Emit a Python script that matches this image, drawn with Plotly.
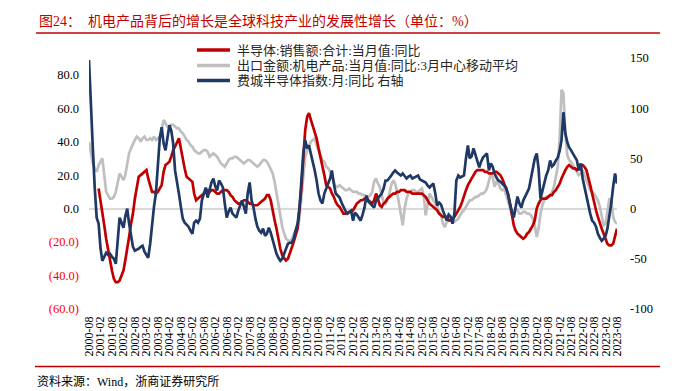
import plotly.graph_objects as go
import pandas as pd

# ---------------- data (monthly, 2000-08 .. 2023-08) ----------------
months = pd.date_range("2000-08-01", "2023-08-01", freq="MS")

# 半导体:销售额:合计:当月值:同比 (left axis, %)
semi_sales_yoy = (
    [None, None, None, None, None]                                   # 2000 Aug-Dec
    + [12, 5, -3, -10, -18, -25, -31, -37, -42, -44, -44, -43]       # 2001
    + [-40, -37, -31, -25, -17, -9, -3, 6, 14, 19, 20, 21]           # 2002
    + [22, 23, 18, 13, 10, 10, 9, 10, 12, 14, 22, 26]                # 2003
    + [27, 28, 31, 35, 37, 40, 42, 36, 29, 24, 19, 18]               # 2004
    + [17, 16, 9, 5, 6, 7, 8, 9, 10, 11, 10, 11]                     # 2005
    + [11, 10, 9, 9, 10, 11, 11, 11, 10, 8, 7, 5]                    # 2006
    + [4, 3, 3, 4, 5, 5, 4, 3, 3, 2, 2, 2]                           # 2007
    + [3, 4, 5, 6, 8, 8, 5, -2, -7, -12, -19, -24]                   # 2008
    + [-28, -30, -31, -30, -27, -23, -20, -16, -12, 0, 12, 30]       # 2009
    + [47, 55, 57, 53, 49, 46, 42, 36, 31, 25, 20, 14]               # 2010
    + [13, 12, 9, 7, 4, 2, 1, -1, -3, -3, -3, -2]                    # 2011
    + [-2, -1, 1, 3, 4, 5, 5, 6, 6, 5, 4, 3]                         # 2012
    + [5, 9, 6, 2, 1, 3, 4, 6, 7, 8, 9, 9]                           # 2013
    + [10, 10, 11, 11, 11, 10, 10, 10, 9, 9, 9, 9]                   # 2014
    + [9, 9, 8, 7, 5, 3, 2, 1, 0, -1, -3, -4]                        # 2015
    + [-5, -5, -5, -7, -7, -6, -5, -3, -1, 1, 4, 8]                  # 2016
    + [11, 14, 16, 18, 20, 22, 23, 23, 23, 23, 22, 22]               # 2017
    + [21, 21, 21, 22, 22, 21, 20, 18, 15, 12, 9, 3]                 # 2018
    + [-3, -10, -13, -15, -16, -17, -18, -17, -15, -14, -12, -10]    # 2019
    + [-7, 0, 3, 5, 6, 6, 6, 7, 8, 8, 10, 11]                        # 2020
    + [13, 15, 18, 21, 23, 25, 26, 25, 24, 24, 23, 24]               # 2021
    + [26, 26, 25, 23, 19, 14, 9, 3, -1, -5, -9, -12]                # 2022
    + [-15, -18, -21, -22, -22, -21, -17, -12]                       # 2023 Jan-Aug
)

# 出口金额:机电产品:当月值:同比:3月中心移动平均 (left axis, %)
export_mech_yoy_3mma = (
    [40, 34, 27, 24, 22]                                             # 2000 Aug-Dec
    + [26, 28, 30, 20, 10, 8, 6, 6, 7, 10, 15, 21]                   # 2001
    + [19, 17, 20, 26, 33, 36, 39, 41, 43, 42, 40, 42]               # 2002
    + [43, 41, 41, 42, 41, 43, 41, 42, 43, 47, 53, 51]               # 2003
    + [49, 49, 50, 50, 49, 48, 48, 46, 45, 43, 41, 40]               # 2004
    + [38, 37, 35, 34, 33, 33, 34, 35, 35, 34, 31, 32]               # 2005
    + [33, 32, 31, 29, 27, 26, 25, 27, 29, 30, 30, 31]               # 2006
    + [31, 30, 29, 28, 27, 28, 29, 29, 28, 27, 26, 25]               # 2007
    + [26, 28, 29, 29, 28, 26, 23, 21, 16, 9, 2, -6]                 # 2008
    + [-11, -15, -18, -19, -20, -18, -15, -13, -12, -6, 7, 20]       # 2009
    + [31, 35, 38, 40, 41, 42, 38, 35, 31, 29, 28, 25]               # 2010
    + [24, 22, 19, 16, 13, 13, 14, 13, 12, 11, 11, 12]               # 2011
    + [11, 10, 10, 10, 9, 9, 8, 8, 7, 7, 8, 10]                      # 2012
    + [16, 18, 15, 13, 8, 4, 3, 5, 9, 14, 17, 15]                    # 2013
    + [10, 3, -4, -10, 0, 6, 9, 10, 11, 11, 10, 10]                  # 2014
    + [11, 12, 8, -4, 2, 9, 7, 5, 3, 1, -2, -4]                      # 2015
    + [-9, -11, -8, -7, -7, -8, -8, -7, -6, -4, -2, -1]              # 2016
    + [1, 3, 5, 5, 6, 7, 7, 8, 9, 9, 10, 12]                         # 2017
    + [16, 21, 19, 13, 16, 15, 12, 11, 12, 8, 5, 1]                  # 2018
    + [-3, -1, 0, -1, -3, -3, -2, -2, -3, -3, -4, -6]                # 2019
    + [-10, -17, -12, -3, 2, 5, 7, 7, 8, 10, 13, 19]                 # 2020
    + [25, 43, 71, 69, 45, 32, 29, 28, 26, 24, 22, 20]               # 2021
    + [21, 23, 20, 17, 14, 11, 10, 9, 7, 5, 1, -5]                   # 2022
    + [-10, -9, -2, 6, 5, -5, -8, -9]                                # 2023 Jan-Aug
)

# 费城半导体指数:月:同比 (right axis, %)
sox_yoy = (
    [148, 110, 60, 20, -9]                                           # 2000 Aug-Dec
    + [-15, -40, -52, -48, -44, -46, -45, -48, -50, -55, -30, -9]    # 2001
    + [-14, -19, -8, 0, -15, -29, -38, -42, -41, -40, -38, -37]      # 2002
    + [-43, -46, -49, -35, -15, 2, 15, 45, 70, 81, 65, 58]           # 2003
    + [70, 83, 78, 65, 38, 28, 15, 2, -10, -14, -16, -18]            # 2004
    + [-22, -25, -14, -12, -14, -10, 8, 15, 21, 11, 20, 26]          # 2005
    + [30, 22, 18, 28, 25, 21, 5, -9, -3, 1, -5, -7]                 # 2006
    + [-9, -2, 4, 8, 2, -5, 15, 26, 8, 1, -10, -18]                  # 2007
    + [-22, -24, -20, -27, -25, -19, -24, -32, -40, -45, -49, -52]   # 2008
    + [-50, -44, -40, -35, -34, -34, -30, -22, -15, 0, 25, 55]       # 2009
    + [68, 60, 63, 55, 48, 38, 28, 15, 8, 5, 15, 21]                 # 2010
    + [25, 30, 38, 25, 15, 13, 11, 6, 1, -2, -5, -3]                 # 2011
    + [-2, -12, -4, -6, -9, -12, -6, 1, 13, 7, 5, 3]                 # 2012
    + [1, 8, 10, 12, 15, 20, 28, 28, 30, 33, 36, 38]                 # 2013
    + [36, 34, 33, 35, 32, 30, 32, 33, 30, 31, 32, 33]               # 2014
    + [29, 28, 27, 26, 23, 21, 23, 25, 15, 3, 6, 4]                  # 2015
    + [-2, -8, -12, -6, -8, -15, -5, 28, 33, 31, 32, 33]             # 2016
    + [50, 63, 50, 52, 60, 53, 47, 41, 47, 51, 53, 55]               # 2017
    + [38, 45, 42, 35, 31, 28, 27, 25, 24, 21, 14, 5]                # 2018
    + [-3, -9, 3, 12, 5, 1, 8, 12, 15, 20, 30, 41]                   # 2019
    + [50, 55, 40, 10, 18, 28, 33, 38, 48, 42, 44, 48]               # 2020
    + [51, 58, 68, 96, 75, 66, 61, 58, 55, 52, 48, 38]               # 2021
    + [45, 30, 21, 12, 5, -5, -12, -14, -18, -25, -29, -32]          # 2022
    + [-30, -27, -20, -8, 5, 22, 35, 25]                             # 2023 Jan-Aug
)

series_names = [
    "半导体:销售额:合计:当月值:同比",
    "出口金额:机电产品:当月值:同比:3月中心移动平均",
    "费城半导体指数:月:同比 右轴",
]

x_tick_vals = list(months[::6])
x_tick_labels = [d.strftime("%Y-%m") for d in x_tick_vals]

left_tick_vals = [80, 60, 40, 20, 0, -20, -40, -60]
left_tick_labels = ["80.0", "60.0", "40.0", "20.0", "0.0", "(20.0)", "(40.0)", "(60.0)"]
right_tick_vals = [150, 100, 50, 0, -50, -100]
right_tick_labels = ["150", "100", "50", "0", "-50", "-100"]

assert len(semi_sales_yoy) == len(months)
assert len(export_mech_yoy_3mma) == len(months)
assert len(sox_yoy) == len(months)

# ---------------- styling ----------------
W, H = 677, 391
L, R, T, B = 89, 60, 58, 82
PW, PH = W - L - R, H - T - B
RED = "#C00000"
GRAY = "#BFBFBF"
NAVY = "#1F3864"
FONT = "Liberation Serif, Noto Sans CJK SC, serif"


def px(x):
    return (x - L) / PW


def py(y):
    return (H - B - y) / PH


fig = go.Figure()
fig.add_trace(go.Scatter(x=months, y=export_mech_yoy_3mma, name=series_names[1],
                         mode="lines", line=dict(color=GRAY, width=2.7), yaxis="y"))
fig.add_trace(go.Scatter(x=months, y=semi_sales_yoy, name=series_names[0],
                         mode="lines", line=dict(color=RED, width=2.7), yaxis="y"))
fig.add_trace(go.Scatter(x=months, y=sox_yoy, name=series_names[2],
                         mode="lines", line=dict(color=NAVY, width=2.7), yaxis="y2"))

left_text = [
    (f'<span style="color:#FF0000">{t}</span>' if v < 0 else t)
    for v, t in zip(left_tick_vals, left_tick_labels)
]

fig.update_layout(
    width=W, height=H,
    margin=dict(l=L, r=R, t=T, b=B, pad=0),
    paper_bgcolor="white", plot_bgcolor="white",
    showlegend=False,
    font=dict(family=FONT, size=12, color="#000000"),
    xaxis=dict(
        type="date", range=[months[0], months[-1]],
        tickmode="array", tickvals=x_tick_vals, ticktext=x_tick_labels,
        tickangle=-90, tickfont=dict(family=FONT, size=12, color="#000000"),
        showgrid=False, zeroline=False, showline=False, ticks="",
        ticklabelstandoff=4,
    ),
    yaxis=dict(
        range=[-60, 90], tickmode="array", tickvals=left_tick_vals, ticktext=left_text,
        tickfont=dict(family=FONT, size=12.5, color="#000000"),
        showgrid=False, showline=False, ticks="",
        zeroline=True, zerolinecolor="#D9D9D9", zerolinewidth=1.5,
        ticklabelstandoff=9,
    ),
    yaxis2=dict(
        range=[-100, 150], overlaying="y", side="right",
        tickmode="array", tickvals=right_tick_vals, ticktext=right_tick_labels,
        tickfont=dict(family=FONT, size=12.5, color="#000000"),
        showgrid=False, showline=False, ticks="", zeroline=False,
        ticklabelstandoff=12,
    ),
)

shapes = []
annotations = []

# title + rule
annotations.append(dict(
    text="图24：\u00a0\u00a0机电产品背后的增长是全球科技产业的发展性增长（单位：%）",
    x=px(37), y=py(21.5), xref="paper", yref="paper", xanchor="left", yanchor="middle",
    showarrow=False, font=dict(family=FONT, size=14, color=RED)))
shapes.append(dict(type="line", xref="paper", yref="paper",
                   x0=px(36), x1=px(660), y0=py(33), y1=py(33),
                   line=dict(color=RED, width=1.5)))

# footer rule + source
shapes.append(dict(type="line", xref="paper", yref="paper",
                   x0=px(35), x1=px(660), y0=py(366.5), y1=py(366.5),
                   line=dict(color=RED, width=1.5)))
annotations.append(dict(
    text="资料来源：Wind，浙商证券研究所",
    x=px(35), y=py(381), xref="paper", yref="paper", xanchor="left", yanchor="middle",
    showarrow=False, font=dict(family=FONT, size=12, color="#000000")))

# legend (drawn manually for exact spacing)
legend_rows = [(series_names[0], RED, 50), (series_names[1], GRAY, 65.5), (series_names[2], NAVY, 80.5)]
for name, col, yy in legend_rows:
    shapes.append(dict(type="line", xref="paper", yref="paper",
                       x0=px(197), x1=px(230), y0=py(yy), y1=py(yy),
                       line=dict(color=col, width=3.5)))
    annotations.append(dict(
        text=name, x=px(235), y=py(yy), xref="paper", yref="paper",
        xanchor="left", yanchor="middle", showarrow=False,
        font=dict(family=FONT, size=13, color="#262626")))

fig.update_layout(shapes=shapes, annotations=annotations)

fig.write_html(
    "out.html",
    config={"displayModeBar": False},
    post_script="document.body.style.margin='0';document.body.style.padding='0';",
)
